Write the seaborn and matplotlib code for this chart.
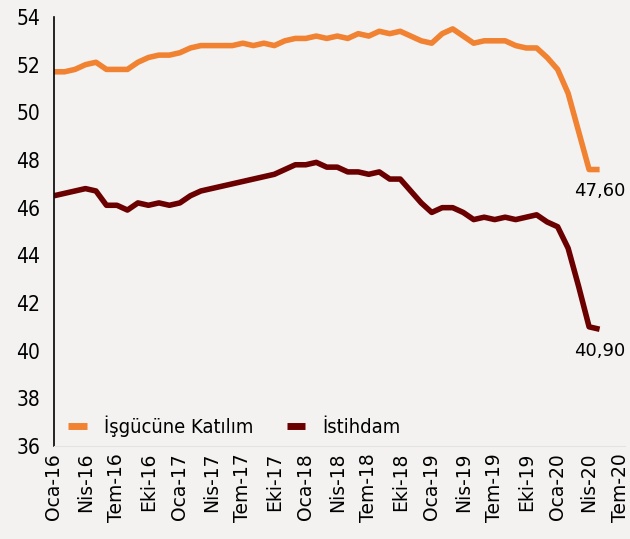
import numpy as np
import pandas as pd
import matplotlib
matplotlib.use("Agg")
import matplotlib.pyplot as plt
import seaborn as sns
from matplotlib.lines import Line2D

# aylik seri: Oca-16 .. May-20
aylar = ["Oca", "Şub", "Mar", "Nis", "May", "Haz", "Tem", "Ağu", "Eyl", "Eki", "Kas", "Ara"]
donem = [f"{aylar[i % 12]}-{16 + i // 12}" for i in range(55)]

isgucu = [51.7, 51.7, 51.8, 52.0, 52.1, 51.8, 51.8, 51.8, 52.1,
          52.3, 52.4, 52.4, 52.5, 52.7, 52.8, 52.8, 52.8, 52.8,
          52.9, 52.8, 52.9, 52.8, 53.0, 53.1, 53.1, 53.2, 53.1,
          53.2, 53.1, 53.3, 53.2, 53.4, 53.3, 53.4, 53.2, 53.0,
          52.9, 53.3, 53.5, 53.2, 52.9, 53.0, 53.0, 53.0, 52.8,
          52.7, 52.7, 52.3, 51.8, 50.8, 49.2, 47.6, 47.6]
istihdam = [46.5, 46.6, 46.7, 46.8, 46.7, 46.1, 46.1, 45.9, 46.2,
            46.1, 46.2, 46.1, 46.2, 46.5, 46.7, 46.8, 46.9, 47.0,
            47.1, 47.2, 47.3, 47.4, 47.6, 47.8, 47.8, 47.9, 47.7,
            47.7, 47.5, 47.5, 47.4, 47.5, 47.2, 47.2, 46.7, 46.2,
            45.8, 46.0, 46.0, 45.8, 45.5, 45.6, 45.5, 45.6, 45.5,
            45.6, 45.7, 45.4, 45.2, 44.3, 42.7, 41.0, 40.9]

seriler = ["İşgücüne Katılım", "İstihdam"]
renkler = ["#F08232", "#6B0000"]
son_etiket = ["47,60", "40,90"]

n = len(isgucu)
df = pd.DataFrame({
    "t": list(range(n)) * 2,
    "deger": isgucu + istihdam,
    "seri": [seriler[0]] * n + [seriler[1]] * n,
})

sns.set_theme(style="white")
plt.rcParams["font.family"] = ["DejaVu Sans"]
plt.rcParams["text.color"] = "black"
plt.rcParams["xtick.color"] = "black"
plt.rcParams["ytick.color"] = "black"
bg = "#F3F2F1"

fig = plt.figure(figsize=(6.30, 5.39), dpi=100, facecolor=bg)
ax = fig.add_axes([0.0857, 0.1725, 0.906, 0.796])
ax.set_facecolor(bg)

sns.lineplot(data=df, x="t", y="deger", hue="seri", palette=dict(zip(seriler, renkler)),
             linewidth=4, ax=ax, legend=False)
for line in ax.get_lines():
    line.set_solid_capstyle("butt")

ax.set_ylim(36, 54)
ax.set_yticks(np.arange(36, 55, 2))
ax.set_xlim(0, 54.4)
tick_pos = list(range(0, 55, 3))
ax.set_xticks(tick_pos)
ax.set_xticklabels([donem[i] for i in tick_pos], rotation=90, fontsize=13.5)
ax.tick_params(axis="y", length=6, width=1.2, direction="out", pad=4)
for t in ax.get_yticklabels():
    t.set_fontsize(15)
    t.set_fontstretch("condensed")
ax.tick_params(axis="x", length=0, pad=5)
ax.set_xlabel("")
ax.set_ylabel("")

for s in ["top", "right"]:
    ax.spines[s].set_visible(False)
ax.spines["left"].set_color("black")
ax.spines["left"].set_linewidth(1.2)
ax.spines["bottom"].set_color("#E4E3E2")
ax.spines["bottom"].set_linewidth(0.8)

# son deger etiketleri
for vals, lbl in zip([isgucu, istihdam], son_etiket):
    ax.annotate(lbl, xy=(n - 1, vals[-1]), xytext=(0, -9), textcoords="offset points",
                ha="center", va="top", fontsize=13, color="black")

handles = [Line2D([0], [0], color=c, lw=5, solid_capstyle="butt") for c in renkler]
leg = ax.legend(handles, seriler, loc="lower left", bbox_to_anchor=(-0.01, -0.025), ncol=2,
                frameon=False, fontsize=14.5, handlelength=0.9, handletextpad=0.85,
                columnspacing=1.7, borderaxespad=0.6)
for t in leg.get_texts():
    t.set_fontstretch("condensed")

fig.savefig("out.png", dpi=100, facecolor=bg)
